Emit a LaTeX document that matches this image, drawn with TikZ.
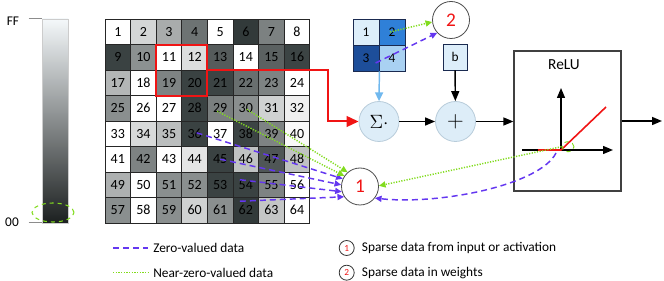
\documentclass[tikz,border=0pt]{standalone}
\usepackage{fontspec}
\setmainfont{Carlito}
\usetikzlibrary{arrows.meta,calc,shapes.geometric}
\definecolor{zerocol}{RGB}{100,55,240}
\definecolor{nearcol}{RGB}{130,220,30}
\definecolor{redc}{RGB}{240,20,20}
\definecolor{celldark}{HTML}{323A3A}
\definecolor{circfill}{HTML}{DDEDF8}
\definecolor{circline}{HTML}{B8CCDA}
\definecolor{wone}{HTML}{DDEEFA}
\definecolor{wtwo}{HTML}{2F80D8}
\definecolor{wthree}{HTML}{1D4E9A}
\definecolor{wfour}{HTML}{A9D1F2}
\definecolor{wline}{HTML}{1A2A50}
\definecolor{lblue}{HTML}{70B8EE}
\begin{document}
\begin{tikzpicture}[x=0.75pt,y=-0.75pt,
  font=\fontsize{10}{12}\selectfont,
  cell/.style={draw=black!85, line width=0.6pt, minimum width=19.2pt, minimum height=19.1pt, inner sep=0, font=\fontsize{10.5}{12}\selectfont},
  wcell/.style={draw=wline, line width=0.6pt, minimum size=19.5pt, inner sep=0},
  zeroline/.style={draw=zerocol, line width=1.1pt, dash pattern=on 4.5pt off 3pt},
  zero/.style={zeroline, -{Triangle[length=5pt,width=4.5pt]}},
  nearline/.style={draw=nearcol, line width=1.1pt, dash pattern=on 0.9pt off 1.1pt},
  near/.style={nearline, -{Triangle[length=5pt,width=4.5pt]}},
  flow/.style={draw=black, line width=1.1pt, -{Triangle[length=7.5pt,width=6pt]}},
  bigcirc/.style={circle, draw=black!70, line width=0.6pt, minimum size=27.75pt, inner sep=0, text=redc, font=\fontsize{14.5}{15}\selectfont},
  opcirc/.style={circle, draw=circline, fill=circfill, line width=0.6pt, minimum size=30pt, inner sep=0},
  smallcirc/.style={circle, draw=black!80, line width=0.6pt, minimum size=11.25pt, inner sep=0, text=redc, font=\fontsize{7}{7}\selectfont},
  legtext/.style={anchor=west, inner sep=0}]
\useasboundingbox (0,0) rectangle (664,281);
% gradient bar
\node[draw=black!20, line width=0.6pt, minimum width=19.5pt, minimum height=153pt, inner sep=0,
  top color={rgb,255:red,244;green,248;blue,250}, middle color={rgb,255:red,150;green,162;blue,162},
  bottom color={rgb,255:red,28;green,32;blue,32}] (bar) at (55,121) {};
\node[inner sep=0] (ff) at (13,21) {FF};
\node[inner sep=0] (zz) at (12,222) {00};
\draw[black!45, line width=0.5pt] ($(bar.north west)+(-13,0)$) -- (bar.north west);
\draw[black!45, line width=0.5pt] ($(bar.south west)+(-13,-1)$) -- ($(bar.south west)+(0,-1)$);
\node[ellipse, draw=nearcol, dashed, line width=0.8pt, minimum width=31.5pt, minimum height=14.25pt, inner sep=0] (barell) at (53,212.5) {};
% grid
\foreach \v [count=\i] in {100,79,58,29,100,0,36,100,
  4,44,100,83,17,100,20,5,
  63,100,37,4,5,27,37,100,
  43,100,100,4,35,43,77,92,
  100,81,67,4,100,5,37,97,
  100,37,100,87,4,69,14,69,
  60,100,43,43,4,4,37,100,
  43,100,43,77,43,0,71,100} {
  \pgfmathtruncatemacro\col{mod(\i-1,8)}
  \pgfmathtruncatemacro\row{div(\i-1,8)}
  \node[cell, fill=white!\v!celldark] (c\i) at ({117.8+25.6*\col},{31.75+25.5*\row}) {\i};
}
\node[draw=redc, line width=1.6pt, minimum width=38.4pt, minimum height=38.25pt, inner sep=0] (redbox) at (181.8,70.2) {};
% weights
\node[wcell, fill=wone] (w1) at (366,32) {1};
\node[wcell, fill=wtwo] (w2) at (392,32) {2};
\node[wcell, fill=wthree] (w3) at (366,58) {3};
\node[wcell, fill=wfour] (w4) at (392,58) {4};
% operators
\node[opcirc, font=\fontsize{15}{15}\selectfont] (sigma) at (379,121.5) {$\Sigma\cdot$};
\node[opcirc, font=\fontsize{16}{16}\selectfont] (plus) at (455.5,121.5) {$+$};
\node[draw=wline, fill=wone, line width=0.6pt, minimum width=18pt, minimum height=19.5pt, inner sep=0] (b) at (455,57) {b};
% ReLU
\node[draw=black!75, line width=0.9pt, minimum width=80.25pt, minimum height=105pt, inner sep=0] (relu) at (567.5,121) {};
\node[inner sep=0, font=\fontsize{11.5}{12}\selectfont] (relulab) at (564,65) {ReLU};
\coordinate (ro) at (561,150);
\coordinate (yaxis) at (561,88);
\coordinate (xaxis0) at (522,150);
\coordinate (xaxis1) at (613,150);
\coordinate (redstart) at (538,150);
\coordinate (redend) at (606,107);
\draw[flow, line width=1pt] (ro) -- (yaxis);
\draw[flow, line width=1pt] (xaxis0) -- (xaxis1);
\draw[redc, line width=1.2pt] (redstart) -- (ro) -- (redend);
\node[ellipse, draw=nearcol, dashed, line width=0.7pt, minimum width=9pt, minimum height=7.5pt, inner sep=0] (roell) at (568,146.7) {};
% sparse circles
\node[bigcirc] (one) at (360,186.5) {1};
\node[bigcirc] (two) at (451,20) {2};
% flow arrows
\coordinate (rturn) at (328,0);
\draw[redc, line width=1.5pt, -{Triangle[length=9pt,width=8pt]}] (redbox.east) -| (rturn |- sigma.west) -- (sigma.west);
\draw[draw=lblue, line width=1.1pt, -{Triangle[length=6.5pt,width=6pt]}] (w3.south east) -- (sigma.north);
\draw[flow] (sigma) -- (plus);
\draw[flow] (b) -- (plus);
\draw[flow] (plus.east) -- (plus.east -| relu.west);
\coordinate (out) at (662,121);
\draw[flow] (relu.east |- out) -- (out);
% sparse connectors
\draw[zero] ($(c36.center)+(2,-1)$) -- (one.156);
\draw[zero] (c45.center) -- (one.175);
\draw[zero] ($(c54.center)+(-6,-5)$) -- (one.196);
\draw[zero] ($(c62.center)+(-6,-9)$) -- (one.213);
\draw[near] ($(c29.center)+(-3,3)$) -- (one.146);
\draw[near] ($(c30.center)+(1,1)$) -- (one.131);
\draw[near] ($(w2.center)+(-2,0)$) -- (two.186);
\draw[zero] ($(w4.west)+(-3,5)$) -- (two.223);
\draw[near] (roell.west) -- (one.2);
\draw[zero] ($(ro)+(-5,3)$) .. controls (540,185) and (440,205) .. (one.322);
% legend
\coordinate (lz0) at (113,248);
\coordinate (lz1) at (148,248);
\coordinate (ln0) at (113,272.7);
\coordinate (ln1) at (148,272.7);
\draw[zeroline, line width=1pt] (lz0) -- (lz1);
\draw[nearline, line width=1pt] (ln0) -- (ln1);
\node[legtext] (lzt) at (153,248) {Zero-valued data};
\node[legtext] (lnt) at (153,272.7) {Near-zero-valued data};
\node[smallcirc] (l1) at (346.7,248) {1};
\node[smallcirc] (l2) at (346.7,272.7) {2};
\node[legtext] (l1t) at (361.7,248) {Sparse data from input or activation};
\node[legtext] (l2t) at (361.7,272.7) {Sparse data in weights};
\end{tikzpicture}
\end{document}
